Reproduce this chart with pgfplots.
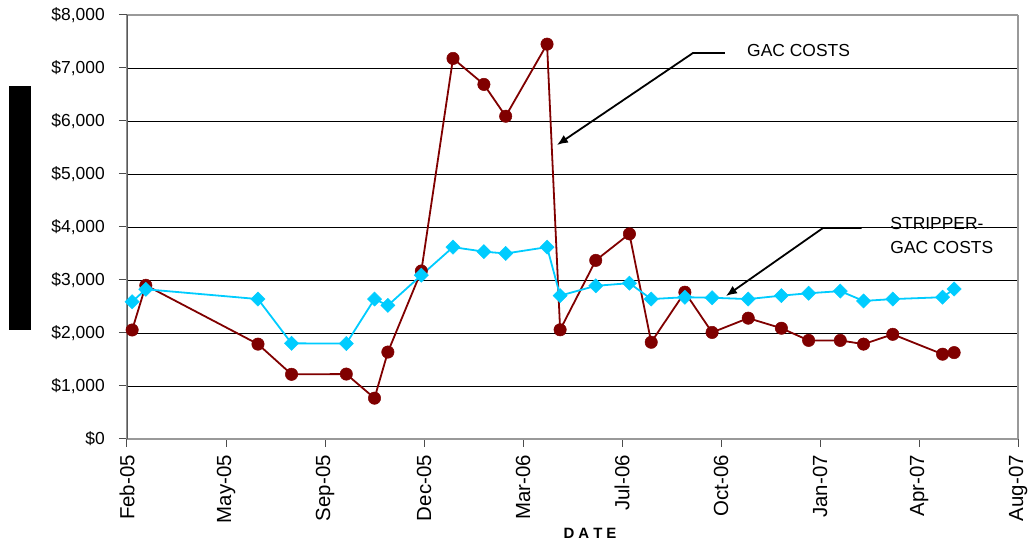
\documentclass[border=0pt]{standalone}
\usepackage{pgfplots}
\usepackage{pgfplotstable}
\pgfplotsset{compat=1.18}
\usepackage{fontspec}
\setmainfont{Liberation Sans}
\usetikzlibrary{arrows.meta}

\definecolor{gacred}{HTML}{800000}
\definecolor{stripblue}{HTML}{00CCFF}

% x: position on the date axis in tick steps (0 = Feb-05, 9 = Aug-07)
\pgfplotstableread{
x      gac   strip
0.052  2057  2590
0.190  2900  2825
1.323  1790  2640
1.662  1220  1805
2.215  1225  1800
2.500   770  2640
2.635  1640  2520
2.973  3170  3090
3.293  7180  3620
3.605  6690  3535
3.825  6090  3500
4.243  7450  3620
4.375  2060  2705
4.735  3370  2890
5.075  3870  2940
5.295  1825  2640
5.635  2770  2675
5.910  2010  2665
6.275  2280  2640
6.610  2090  2705
6.885  1860  2750
7.205  1860  2790
7.440  1790  2605
7.735  1975  2640
8.238  1600  2675
8.355  1630  2830
}\costs

\begin{document}
\begin{tikzpicture}[x=1bp,y=1bp]
\useasboundingbox (-127,-107) rectangle (906,439);
% y-axis title block
\fill[black] (-118,109) rectangle (-96,353);
\begin{axis}[
  at={(0,0)}, anchor=south west,
  scale only axis, width=891bp, height=424bp,
  xmin=0, xmax=9, ymin=0, ymax=8000,
  xtick={0,...,9},
  xticklabels={Feb-05,May-05,Sep-05,Dec-05,Mar-06,Jul-06,Oct-06,Jan-07,Apr-07,Aug-07},
  ytick={0,1000,...,8000},
  yticklabels={{\$0},{\$1,000},{\$2,000},{\$3,000},{\$4,000},{\$5,000},{\$6,000},{\$7,000},{\$8,000}},
  xtick pos=bottom, ytick pos=left,
  tick align=outside,
  major tick length=8bp,
  tick style={draw=black!70, line width=1bp},
  xticklabel shift=8bp,
  yticklabel shift=14bp,
  xticklabel style={rotate=90, anchor=east, inner sep=0pt,
    font=\fontsize{20.5}{24}\selectfont},
  yticklabel style={anchor=east, inner sep=0pt,
    font=\fontsize{17.5}{21}\selectfont},
  ymajorgrids,
  grid style={draw=black, line width=0.9bp},
  separate axis lines,
  x axis line style={draw=gray!80, line width=1.2bp},
  y axis line style={draw=gray!80, line width=1.2bp},
  xlabel={\textbf{D\hspace{4bp}A\hspace{4bp}T\hspace{4bp}E}},
  xlabel style={at={(axis description cs:0.5197,-0.2229)}, anchor=center,
    inner sep=0pt, font=\fontsize{15}{18}\selectfont},
]
\addplot[color=gacred, line width=1.8bp, mark=*, mark size=6.2bp,
  mark options={fill=gacred, draw=gacred, line width=0.5bp}]
  table[x=x, y=gac] {\costs};
\addplot[color=stripblue, line width=1.8bp, mark=square*, mark size=5bp,
  mark options={rotate=45, fill=stripblue, draw=stripblue, line width=0.5bp}]
  table[x=x, y=strip] {\costs};

% left axis line, drawn darker than the frame
\draw[draw=black!65, line width=1.5bp]
  (axis description cs:0,0) -- (axis description cs:0,1);

% call-outs
\draw[black, line width=1.8bp, -{Latex[length=11bp,width=9bp]}]
  (axis cs:6.04,7283) -- (axis cs:5.717,7283) -- (axis cs:4.343,5547);
\node[anchor=west, inner sep=0pt, font=\fontsize{17.5}{21}\selectfont]
  at (axis cs:6.263,7321) {GAC COSTS};
\draw[black, line width=1.8bp, -{Latex[length=11bp,width=9bp]}]
  (axis cs:7.42,3981) -- (axis cs:7.03,3981) -- (axis cs:6.05,2698);
\node[anchor=west, align=left, inner sep=0pt, font=\fontsize{17.5}{25}\selectfont]
  at (axis cs:7.71,3840) {STRIPPER-\\GAC COSTS};
\end{axis}
\end{tikzpicture}
\end{document}
